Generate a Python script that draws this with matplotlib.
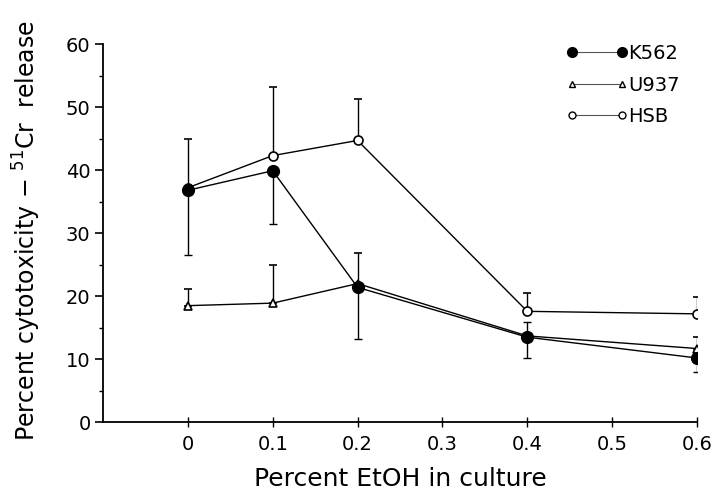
import matplotlib
matplotlib.use("Agg")
import matplotlib.pyplot as plt
from matplotlib.lines import Line2D

plt.rcParams['font.family'] = ['DejaVu Sans']

x = [0, 0.1, 0.2, 0.4, 0.6]
k562 = [36.8, 39.9, 21.4, 13.5, 10.2]
k562_up = [0, 0, 0, 2.4, 0]
k562_dn = [10.3, 8.4, 8.2, 3.3, 2.3]
u937 = [18.5, 18.9, 22.0, 13.7, 11.7]
u937_up = [2.6, 6.1, 4.9, 0, 1.8]
u937_dn = [0, 0, 0, 0, 0]
hsb = [37.2, 42.3, 44.7, 17.6, 17.2]
hsb_up = [7.7, 10.9, 6.6, 2.9, 2.7]
hsb_dn = [0, 0, 0, 0, 0]

xticks = [0, 0.1, 0.2, 0.3, 0.4, 0.5, 0.6]
xticklabels = ['0', '0.1', '0.2', '0.3', '0.4', '0.5', '0.6']
yticks = [0, 10, 20, 30, 40, 50, 60]

fig = plt.figure(figsize=(7.16, 4.92), dpi=100)
ax = fig.add_axes([103/716, 1-422.3/492, (697-103)/716, (422.3-44)/492])

ekw = dict(elinewidth=1.0, capsize=3, capthick=1.0, ecolor='black', color='black', lw=1.0)
ax.errorbar(x, hsb, yerr=[hsb_dn, hsb_up], marker='o', ms=6.5, mfc='white', mec='black', mew=1.2,
            zorder=3, **ekw)
ax.errorbar(x, u937, yerr=[u937_dn, u937_up], marker='^', ms=6, mfc='white', mec='black', mew=1.2,
            zorder=3, **ekw)
ax.errorbar(x, k562, yerr=[k562_dn, k562_up], marker='o', ms=8.5, mfc='black', mec='black',
            zorder=4, **ekw)

ax.set_xlim(-0.1, 0.6)
ax.set_ylim(0, 60)
ax.set_xticks(xticks)
ax.set_xticklabels(xticklabels)
ax.set_yticks(yticks)
ax.set_yticks([5, 15, 25, 35, 45, 55], minor=True)
for s in ['top', 'right']:
    ax.spines[s].set_visible(False)
ax.spines['left'].set_linewidth(1.3)
ax.spines['bottom'].set_linewidth(1.3)
ax.tick_params(axis='y', which='major', direction='out', length=6, width=1.2, labelsize=14, pad=3)
ax.tick_params(axis='y', which='minor', direction='out', length=3, width=1.0)
ax.tick_params(axis='x', which='major', direction='inout', length=7, width=1.0, labelsize=14, pad=6)

ax.set_xlabel('Percent EtOH in culture', fontsize=18)
ax.xaxis.set_label_coords((400-103)/594, (422.3-479)/378.3)
ax.xaxis.label.set_va('center')
ax.set_ylabel(r'Percent cytotoxicity $-$ $^{51}$Cr  release', fontsize=17)
ax.yaxis.set_label_coords((27-103)/594, (422.3-231)/378.3)
ax.yaxis.label.set_va('center')

handles = [
    Line2D([], [], color='#555555', lw=0.8, marker='o', ms=7, mfc='black', mec='black'),
    Line2D([], [], color='#555555', lw=0.8, marker='^', ms=4.5, mfc='white', mec='black', mew=1.0),
    Line2D([], [], color='#555555', lw=0.8, marker='o', ms=5, mfc='white', mec='black', mew=1.0),
]
labels = ['K562', 'U937', 'HSB']
ax.legend(handles, labels, loc='upper left',
          bbox_to_anchor=((566-103)/594, (422.3-44)/378.3), frameon=False, numpoints=2,
          handlelength=3.17, handletextpad=0.05, fontsize=14, labelspacing=0.65,
          borderaxespad=0, borderpad=0)

fig.savefig('out.png', dpi=100)
